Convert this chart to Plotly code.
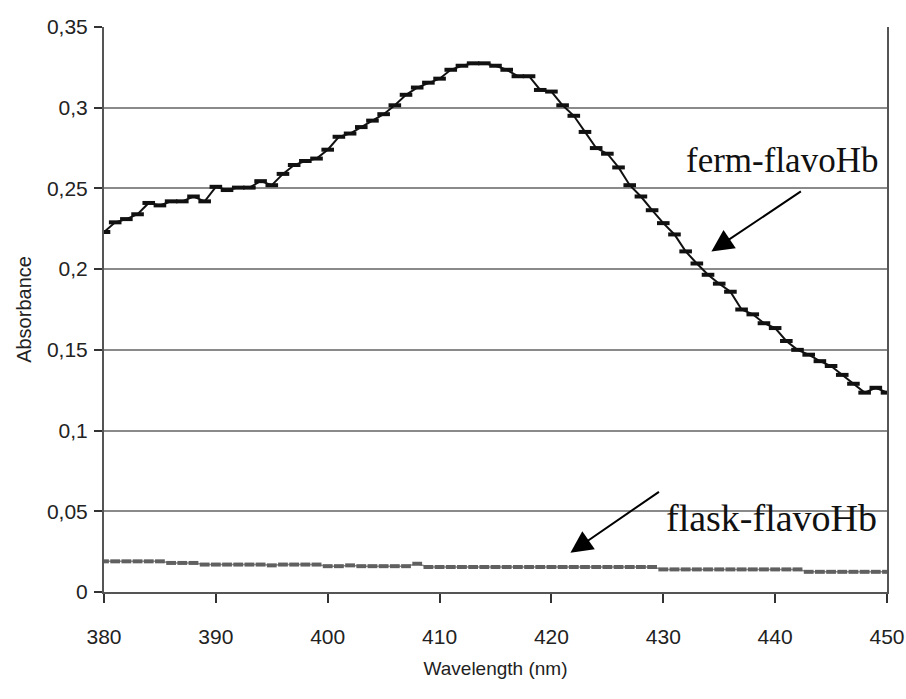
import plotly.graph_objects as go

wavelength = list(range(380, 451))

ferm = [0.223, 0.229, 0.231, 0.234, 0.241, 0.2395, 0.242, 0.242, 0.245, 0.242,
        0.251, 0.249, 0.2505, 0.2505, 0.2545, 0.252, 0.259, 0.2645, 0.267, 0.2685,
        0.274, 0.282, 0.284, 0.288, 0.292, 0.296, 0.3015, 0.308, 0.3125, 0.3155,
        0.318, 0.3235, 0.326, 0.3275, 0.3275, 0.326, 0.3235, 0.3195, 0.3195, 0.311,
        0.310, 0.3015, 0.295, 0.285, 0.275, 0.2715, 0.263, 0.252, 0.245, 0.2365,
        0.2285, 0.2215, 0.211, 0.2035, 0.1965, 0.191, 0.186, 0.175, 0.172, 0.1665,
        0.1635, 0.1555, 0.150, 0.147, 0.143, 0.140, 0.1345, 0.129, 0.1235, 0.1265,
        0.1235]

flask = [0.019, 0.019, 0.019, 0.019, 0.019, 0.019, 0.018, 0.018, 0.018, 0.017,
         0.017, 0.017, 0.017, 0.017, 0.017, 0.0165, 0.017, 0.017, 0.017, 0.017,
         0.016, 0.016, 0.0165, 0.016, 0.016, 0.016, 0.016, 0.016, 0.0175, 0.0155,
         0.0155, 0.0155, 0.0155, 0.0155, 0.0155, 0.0155, 0.0155, 0.0155, 0.0155, 0.0155,
         0.0155, 0.0155, 0.0155, 0.0155, 0.0155, 0.0155, 0.0155, 0.0155, 0.0155, 0.0155,
         0.014, 0.014, 0.014, 0.014, 0.014, 0.014, 0.014, 0.014, 0.014, 0.014,
         0.014, 0.014, 0.014, 0.0125, 0.0125, 0.0125, 0.0125, 0.0125, 0.0125, 0.0125,
         0.0125]

y_tickvals = [0, 0.05, 0.1, 0.15, 0.2, 0.25, 0.3, 0.35]
y_ticktext = ["0", "0,05", "0,1", "0,15", "0,2", "0,25", "0,3", "0,35"]
x_tickvals = [380, 390, 400, 410, 420, 430, 440, 450]

fig = go.Figure()

fig.add_trace(go.Scatter(
    x=wavelength, y=flask, mode="lines+markers", name="flask-flavoHb",
    line=dict(color="#8a8a8a", width=1.5),
    marker=dict(symbol="line-ew", size=7, line=dict(color="#606060", width=4)),
))
fig.add_trace(go.Scatter(
    x=wavelength, y=ferm, mode="lines+markers", name="ferm-flavoHb",
    line=dict(color="#111111", width=2),
    marker=dict(symbol="line-ew", size=9, line=dict(color="#111111", width=4)),
))

fig.update_layout(
    width=906, height=699,
    margin=dict(l=104, r=19, t=27, b=107),
    paper_bgcolor="white", plot_bgcolor="white",
    showlegend=False,
    font=dict(family="Liberation Sans, Arial, sans-serif", color="#222222"),
)

fig.update_xaxes(
    range=[380, 450], tickvals=x_tickvals, automargin=False,
    showgrid=False, zeroline=False,
    showline=True, linecolor="#555555", linewidth=2,
    ticks="outside", ticklen=9, tickwidth=1.5, tickcolor="#333333",
    tickfont=dict(size=21), ticklabelstandoff=16,
    title=dict(text="Wavelength (nm)", font=dict(size=19), standoff=14),
)
fig.update_yaxes(
    range=[0, 0.35], tickvals=y_tickvals, ticktext=y_ticktext, automargin=False,
    showgrid=True, gridcolor="#8a8a8a", gridwidth=1.5, zeroline=False,
    showline=True, linecolor="#555555", linewidth=2, mirror=True,
    ticks="outside", ticklen=8, tickwidth=1.5, tickcolor="#333333",
    tickfont=dict(size=21), ticklabelstandoff=2,
    title=dict(text="Absorbance", font=dict(size=20), standoff=10),
)

serif = "Liberation Serif, Times New Roman, serif"
fig.add_annotation(x=440.6, y=0.2675, xref="x", yref="y", text="ferm-flavoHb",
                   showarrow=False, font=dict(family=serif, size=35, color="#111111"))
fig.add_annotation(x=439.7, y=0.0457, xref="x", yref="y", text="flask-flavoHb",
                   showarrow=False, font=dict(family=serif, size=38, color="#111111"))
fig.add_annotation(x=434.3, y=0.211, xref="x", yref="y", text="", showarrow=True,
                   ax=91, ay=-61, arrowhead=2, arrowsize=2.2, arrowwidth=2,
                   arrowcolor="#000000")
fig.add_annotation(x=421.7, y=0.0243, xref="x", yref="y", text="", showarrow=True,
                   ax=90, ay=-62, arrowhead=2, arrowsize=2.2, arrowwidth=2,
                   arrowcolor="#000000")

# remove the browser's default page margin so the 906x699 figure fills the window exactly
fig.write_html("out.html",
               config={"displayModeBar": False},
               post_script="document.body.style.margin='0';document.body.style.overflow='hidden';")
